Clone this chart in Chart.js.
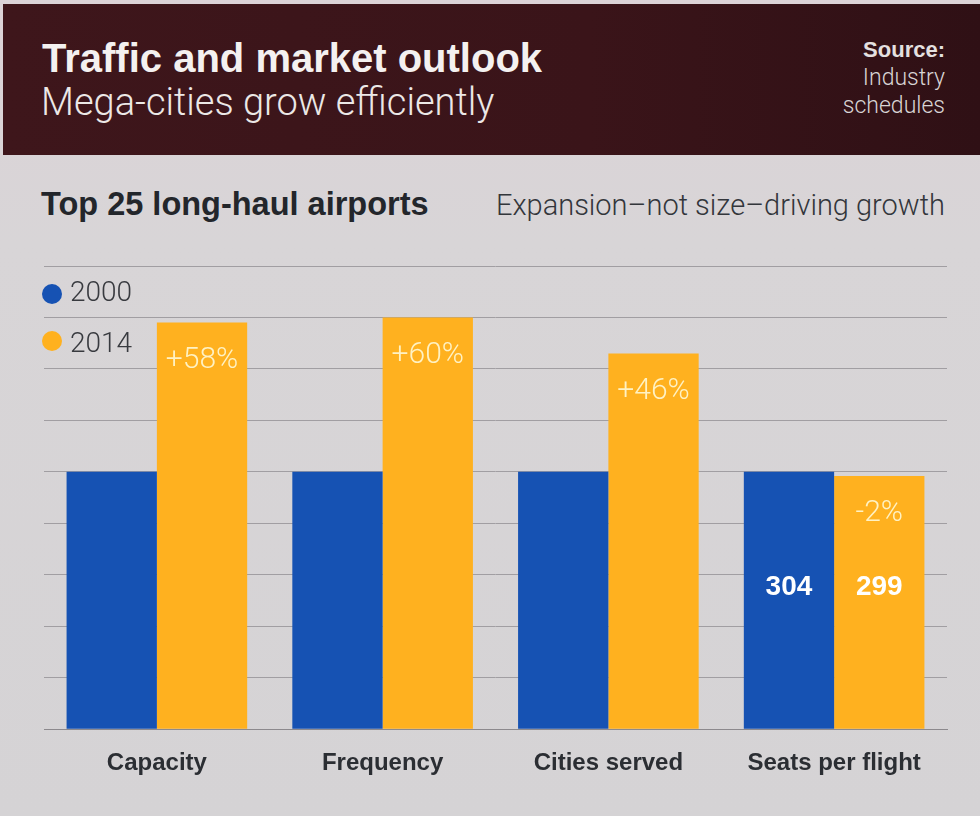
<!DOCTYPE html>
<html>
<head>
<meta charset="utf-8">
<script src="https://cdn.jsdelivr.net/npm/chart.js@4"></script>
<style>
    html, body { margin: 0; padding: 0; }
    body {
        width: 980px; height: 816px; position: relative; overflow: hidden;
        background: linear-gradient(180deg, #dcd3d7 0%, #d8d5d7 30%, #d5d3d5 100%);
        font-family: "Liberation Sans", Arial, sans-serif;
    }
    div, span { line-height: 1; white-space: nowrap; }
    .header {
        position: absolute; left: 3px; top: 4px; width: 977px; height: 151px;
        background: linear-gradient(90deg, #3e161b 0%, #3a1419 60%, #2f1015 100%);
    }
    .title { position: absolute; left: 39px; top: 34px; color: #f4f1f0; font-size: 40px; font-weight: bold; }
    .subtitle { position: absolute; left: 38px; top: 79px; color: #ece8e6; font-size: 38px; font-family: Roboto, sans-serif; font-weight: 300; }
    .source { position: absolute; right: 35px; top: 32px; text-align: right; color: #d8d4d4; font-size: 23px; font-family: Roboto, sans-serif; font-weight: 300; }
    .source div { line-height: 28px; }
    .source b { font-family: "Liberation Sans", Arial, sans-serif; font-size: 22px; font-weight: bold; color: #e4e0e0; }
    .chartTitle { position: absolute; left: 41px; top: 188px; color: #23262b; font-size: 32.5px; font-weight: bold; }
    .chartNote { position: absolute; right: 35px; top: 191px; color: #33363b; font-size: 29px; font-family: Roboto, sans-serif; font-weight: 300; }
    .legend { position: absolute; left: 70px; color: #383a3f; font-size: 28px; font-family: Roboto, sans-serif; font-weight: 300; }
    .dot { position: absolute; left: 42px; width: 20px; height: 20px; border-radius: 50%; }
    canvas.chartAirports { position: absolute; left: 0; top: 0; }
</style>
</head>
<body>
<div class="header">
    <div class="title">Traffic and market outlook</div>
    <div class="subtitle">Mega-cities grow efficiently</div>
    <div class="source"><div><b>Source:</b></div><div>Industry</div><div>schedules</div></div>
</div>
<div class="chartTitle">Top 25 long-haul airports</div>
<div class="chartNote">Expansion–not size–driving growth</div>
<canvas class="chartAirports" width="980" height="816"></canvas>
<span class="dot" style="top: 284px; background:#1652b3"></span>
<div class="legend" style="top: 278px;">2000</div>
<span class="dot" style="top: 331px; background:#ffb11f"></span>
<div class="legend" style="top: 329px;">2014</div>

<script>
/*
* Данные графика (индекс, 2000 = 100)
*/
const categories = ['Capacity', 'Frequency', 'Cities served', 'Seats per flight'];
const years = ['2000', '2014'];
const values2000 = [100, 100, 100, 100];
const values2014 = [158, 160, 146, 98.4];
const changeLabels = ['+58%', '+60%', '+46%', '-2%'];
const seatsPerFlight = [304, 299];

/*
* Подписи внутри столбцов
*/
const barLabels = {
    id: 'barLabels',
    afterDatasetsDraw(chart) {
        const ctx = chart.ctx;
        const y = chart.scales.y;
        const bars2000 = chart.getDatasetMeta(0).data;
        const bars2014 = chart.getDatasetMeta(1).data;
        ctx.save();
        ctx.textAlign = 'center';
        ctx.textBaseline = 'middle';
        ctx.fillStyle = '#fff2c4';
        ctx.font = '300 30px Roboto, sans-serif';
        bars2014.forEach((bar, i) => {
            ctx.fillText(changeLabels[i], bar.x, bar.y + 38);
        });
        // посадочные места на рейс
        ctx.fillStyle = '#ffffff';
        ctx.font = 'bold 28px "Liberation Sans", Arial, sans-serif';
        const last = categories.length - 1;
        ctx.fillText(seatsPerFlight[0], bars2000[last].x, y.getPixelForValue(55));
        ctx.fillText(seatsPerFlight[1], bars2014[last].x, y.getPixelForValue(55));
        ctx.restore();
    }
};

document.addEventListener('DOMContentLoaded', () => {
    new Chart(
        document.querySelector('.chartAirports'),
        {
            type: 'bar',
            data: {
                labels: categories,
                datasets: [
                    {
                        label: years[0],
                        data: values2000,
                        backgroundColor: '#1652b3',
                        borderWidth: 0
                    },
                    {
                        label: years[1],
                        data: values2014,
                        backgroundColor: '#ffb11f',
                        borderWidth: 0
                    }
                ]
            },
            options: {
                responsive: false,
                animation: false,
                layout: {
                    padding: { top: 266, left: 44, right: 33, bottom: 26 }
                },
                datasets: {
                    bar: { categoryPercentage: 0.8, barPercentage: 1.0 }
                },
                plugins: {
                    legend: { display: false },
                    tooltip: { enabled: false }
                },
                scales: {
                    x: {
                        grid: { display: false },
                        border: { display: true, color: '#8c898d', width: 1 },
                        ticks: {
                            color: '#2b2e33',
                            padding: 12,
                            font: { family: '"Liberation Sans", Arial, sans-serif', size: 24, weight: 'bold' }
                        }
                    },
                    y: {
                        min: 0,
                        max: 180,
                        ticks: { display: false, stepSize: 20 },
                        border: { display: false },
                        grid: { color: '#a19ea2', lineWidth: 1, drawTicks: false }
                    }
                }
            },
            plugins: [barLabels]
        }
    );
});
</script>
</body>
</html>
